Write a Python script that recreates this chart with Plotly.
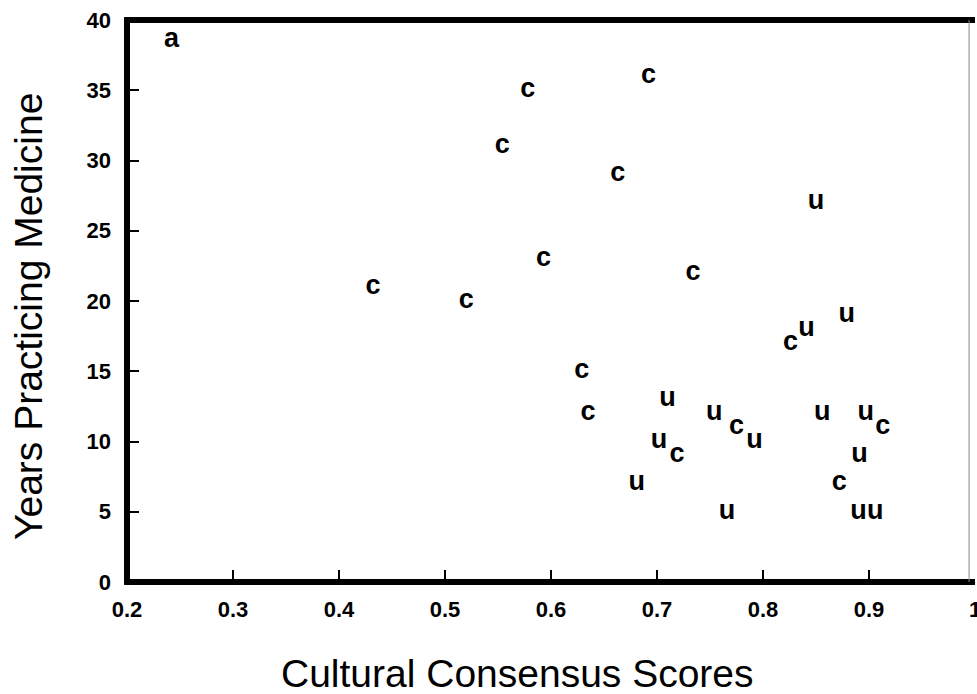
import plotly.graph_objects as go

# Data
c_scores = [0.432, 0.520, 0.554, 0.578, 0.593, 0.629, 0.635, 0.663, 0.692,
            0.719, 0.734, 0.775, 0.826, 0.872, 0.913]
c_years = [21, 20, 31, 35, 23, 15, 12, 29, 36, 9, 22, 11, 17, 7, 11]

u_scores = [0.681, 0.702, 0.710, 0.754, 0.766, 0.792, 0.841, 0.850, 0.856,
            0.879, 0.890, 0.891, 0.897, 0.906]
u_years = [7, 10, 13, 12, 5, 10, 18, 27, 12, 19, 5, 9, 12, 5]

x_tickvals = [0.2, 0.3, 0.4, 0.5, 0.6, 0.7, 0.8, 0.9, 1.0]
x_ticktext = ["0.2", "0.3", "0.4", "0.5", "0.6", "0.7", "0.8", "0.9", "1"]
y_tickvals = [0, 5, 10, 15, 20, 25, 30, 35, 40]

panel_label = "a"
x_title = "Cultural Consensus Scores"
y_title = "Years Practicing Medicine"

letter_font = dict(family="Liberation Sans, Arial", size=27, color="black", weight="bold")
tick_font = dict(family="Liberation Sans, Arial", size=22, color="black", weight="bold")

fig = go.Figure()
fig.add_trace(go.Scatter(x=c_scores, y=c_years, mode="text", text=["c"] * len(c_scores),
                         textposition="middle center", textfont=letter_font,
                         showlegend=False, hoverinfo="x+y"))
fig.add_trace(go.Scatter(x=u_scores, y=u_years, mode="text", text=["u"] * len(u_scores),
                         textposition="middle center", textfont=letter_font,
                         showlegend=False, hoverinfo="x+y"))

fig.update_layout(
    width=981, height=694,
    margin=dict(l=127, r=0, t=20, b=112),
    paper_bgcolor="white", plot_bgcolor="white",
    xaxis=dict(range=[0.2, 1.0], tickvals=x_tickvals, ticktext=x_ticktext,
               ticks="inside", ticklen=12, tickwidth=2, tickcolor="black",
               showgrid=False, zeroline=False, showline=False,
               tickfont=tick_font, ticklabelstandoff=12, ticklabeloverflow="allow"),
    yaxis=dict(range=[0, 40], tickvals=y_tickvals,
               ticks="inside", ticklen=12, tickwidth=2, tickcolor="black",
               showgrid=False, zeroline=False, showline=False,
               tickfont=tick_font, ticklabelstandoff=15, ticklabeloverflow="allow"),
    shapes=[
        dict(type="line", xref="paper", yref="paper", x0=0, x1=0, y0=-0.005, y1=1.005,
             line=dict(color="black", width=6)),
        dict(type="line", xref="paper", yref="paper", x0=-0.003, x1=1, y0=0, y1=0,
             line=dict(color="black", width=6)),
        dict(type="line", xref="paper", yref="paper", x0=-0.003, x1=1, y0=1, y1=1,
             line=dict(color="black", width=6)),
        dict(type="line", xref="paper", yref="paper", x0=0.993, x1=0.993, y0=0, y1=1,
             line=dict(color="#888888", width=1)),
    ],
    annotations=[
        dict(text=panel_label, xref="paper", yref="paper", x=0.053, y=0.968,
             showarrow=False, font=letter_font, xanchor="center", yanchor="middle"),
        dict(text=x_title, xref="paper", yref="paper", x=0.4602, y=-0.162,
             showarrow=False, xanchor="center", yanchor="middle",
             font=dict(family="Liberation Sans, Arial", size=39, color="black")),
        dict(text=y_title, xref="paper", yref="paper", x=-0.117, y=0.473,
             showarrow=False, xanchor="center", yanchor="middle", textangle=-90,
             font=dict(family="Liberation Sans, Arial", size=39, color="black")),
    ],
)

fig.write_html(
    "out.html",
    config={"displayModeBar": False},
    post_script="document.body.style.margin='0';document.body.style.overflow='hidden';",
)
